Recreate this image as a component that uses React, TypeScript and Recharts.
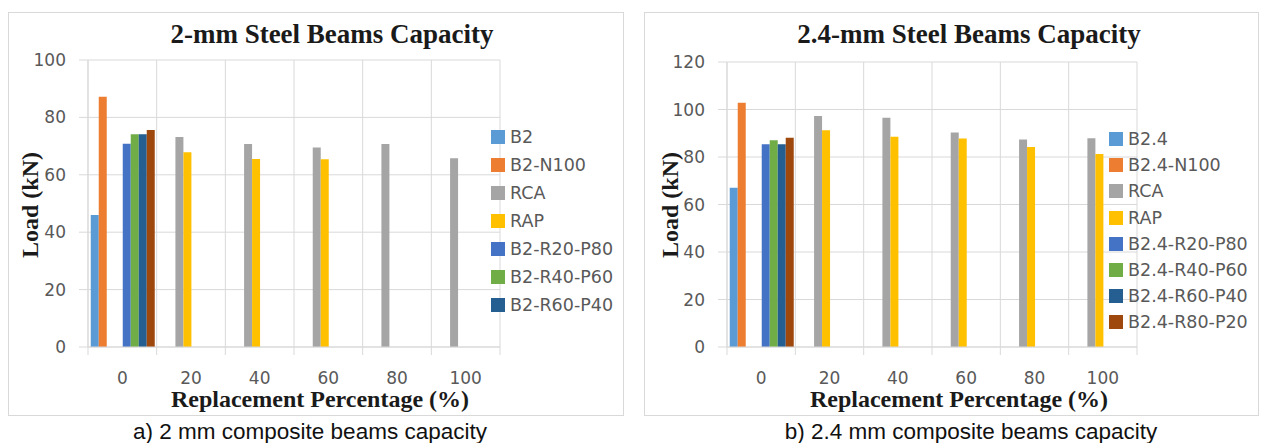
import React from "react";
import { Bar, BarChart, CartesianGrid, Legend, XAxis, YAxis } from "recharts";

// replacement percentage categories (x axis)
const categories = ["0", "20", "40", "60", "80", "100"];

// 2 mm steel beams, load in kN
const b2 = [46, null, null, null, null, null];
const b2N100 = [87.2, null, null, null, null, null];
const rca2 = [null, 73.2, 70.7, 69.5, 70.7, 65.8];
const rap2 = [null, 67.9, 65.5, 65.4, null, null];
const b2R20 = [70.8, null, null, null, null, null];
const b2R40 = [74.1, null, null, null, null, null];
const b2R60 = [74.1, null, null, null, null, null];
const b2R80 = [75.6, null, null, null, null, null];

// 2.4 mm steel beams, load in kN
const b24 = [67.1, null, null, null, null, null];
const b24N100 = [102.8, null, null, null, null, null];
const rca24 = [null, 97.3, 96.5, 90.3, 87.4, 87.9];
const rap24 = [null, 91.3, 88.5, 87.8, 84.2, 81.3];
const b24R20 = [85.4, null, null, null, null, null];
const b24R40 = [87.1, null, null, null, null, null];
const b24R60 = [85.4, null, null, null, null, null];
const b24R80 = [88.1, null, null, null, null, null];

const ticks2 = [0, 20, 40, 60, 80, 100];
const ticks24 = [0, 20, 40, 60, 80, 100, 120];

const colors = ["#5B9BD5", "#ED7D31", "#A5A5A5", "#FFC000", "#4472C4", "#70AD47", "#255E91", "#9E480E"];
const gridColor = "#d9d9d9";
const labelColor = "#595959";
const serif = "'Liberation Serif', 'Times New Roman', serif";
const sans = "'DejaVu Sans', sans-serif";

type Series = { name: string; values: (number | null)[]; legend: boolean };

const series2: Series[] = [
  { name: "B2", values: b2, legend: true },
  { name: "B2-N100", values: b2N100, legend: true },
  { name: "RCA", values: rca2, legend: true },
  { name: "RAP", values: rap2, legend: true },
  { name: "B2-R20-P80", values: b2R20, legend: true },
  { name: "B2-R40-P60", values: b2R40, legend: true },
  { name: "B2-R60-P40", values: b2R60, legend: true },
  { name: "B2-R80-P20", values: b2R80, legend: false },
];

const series24: Series[] = [
  { name: "B2.4", values: b24, legend: true },
  { name: "B2.4-N100", values: b24N100, legend: true },
  { name: "RCA", values: rca24, legend: true },
  { name: "RAP", values: rap24, legend: true },
  { name: "B2.4-R20-P80", values: b24R20, legend: true },
  { name: "B2.4-R40-P60", values: b24R40, legend: true },
  { name: "B2.4-R60-P40", values: b24R60, legend: true },
  { name: "B2.4-R80-P20", values: b24R80, legend: true },
];

function buildRows(list: Series[]) {
  return categories.map((c, i) => {
    const row: Record<string, any> = { pct: c };
    list.forEach((s) => (row[s.name] = s.values[i]));
    return row;
  });
}

function makeTick(band: number) {
  return function Tick(props: any) {
    const { x, y, payload, index } = props;
    return (
      <g>
        <line x1={x - band / 2} x2={x - band / 2} y1={y} y2={y + 8} stroke={gridColor} />
        {index === categories.length - 1 && (
          <line x1={x + band / 2} x2={x + band / 2} y1={y} y2={y + 8} stroke={gridColor} />
        )}
        <text x={x} y={y + 37} textAnchor="middle" fill={labelColor} fontSize={17} fontFamily={sans}>
          {payload.value}
        </text>
      </g>
    );
  };
}

function makeLegend(rowH: number, list: Series[]) {
  const order = list.map((s) => s.name);
  return function LegendBox(props: any) {
    const items = (props.payload || [])
      .filter((p: any) => p.type !== "none")
      .sort((a: any, b: any) => order.indexOf(a.value) - order.indexOf(b.value));
    return (
      <div>
        {items.map((p: any) => (
          <div key={p.value} style={{ display: "flex", alignItems: "center", height: rowH }}>
            <span style={{ width: 14, height: 14, background: p.color, marginRight: 5, flex: "none" }} />
            <span style={{ fontFamily: sans, fontSize: 17.5, color: labelColor, whiteSpace: "nowrap" }}>{p.value}</span>
          </div>
        ))}
      </div>
    );
  };
}

type PanelProps = {
  box: { left: number; top: number; width: number; height: number };
  margin: { top: number; right: number; bottom: number; left: number };
  yWidth: number;
  list: Series[];
  yMax: number;
  yTicks: number[];
  legendPos: { left: number; top: number; rowH: number };
  title: string;
  titlePos: [number, number];
  xTitlePos: [number, number];
  yTitlePos: [number, number];
  caption: string;
  captionPos: [number, number];
};

function Panel(p: PanelProps) {
  const cw = p.box.width - 2;
  const ch = p.box.height - 2;
  const plotW = cw - p.margin.left - p.margin.right - p.yWidth;
  const band = plotW / categories.length;
  const data = buildRows(p.list);
  const center = (pos: [number, number]): React.CSSProperties => ({
    position: "absolute",
    left: pos[0],
    top: pos[1],
    transform: "translate(-50%, -50%)",
    whiteSpace: "nowrap",
  });
  return (
    <>
      <div
        style={{
          position: "absolute",
          left: p.box.left,
          top: p.box.top,
          width: p.box.width,
          height: p.box.height,
          border: `1px solid ${gridColor}`,
          boxSizing: "border-box",
          background: "#fff",
        }}
      >
        <BarChart width={cw} height={ch} data={data} margin={p.margin} barCategoryGap="4%" barGap={0}>
          <CartesianGrid
            stroke={gridColor}
            verticalCoordinatesGenerator={({ offset }: any) =>
              Array.from({ length: categories.length + 1 }, (_, i) => offset.left + (i * offset.width) / categories.length)
            }
          />
          <XAxis
            dataKey="pct"
            stroke={gridColor}
            tickLine={false}
            tickSize={0}
            tickMargin={0}
            height={40}
            interval={0}
            tick={makeTick(band)}
          />
          <YAxis
            width={p.yWidth}
            domain={[0, p.yMax]}
            ticks={p.yTicks}
            stroke={gridColor}
            tickSize={9}
            tickMargin={13}
            tick={{ fill: labelColor, fontSize: 17, fontFamily: sans }}
          />
          <Legend
            layout="vertical"
            align="center"
            verticalAlign="middle"
            wrapperStyle={{ left: p.legendPos.left, top: p.legendPos.top, width: 150 }}
            content={makeLegend(p.legendPos.rowH, p.list)}
          />
          {p.list.map((s, i) => (
            <Bar
              key={s.name}
              dataKey={s.name}
              name={s.name}
              fill={colors[i]}
              legendType={s.legend ? "square" : "none"}
              isAnimationActive={false}
            />
          ))}
        </BarChart>
      </div>
      <div style={{ ...center(p.titlePos), fontFamily: serif, fontWeight: "bold", fontSize: 27, color: "#1a1a1a" }}>
        {p.title}
      </div>
      <div style={{ ...center(p.xTitlePos), fontFamily: serif, fontWeight: "bold", fontSize: 24, color: "#1a1a1a" }}>
        Replacement Percentage (%)
      </div>
      <div
        style={{
          ...center(p.yTitlePos),
          transform: "translate(-50%, -50%) rotate(-90deg)",
          fontFamily: serif,
          fontWeight: "bold",
          fontSize: 24,
          color: "#1a1a1a",
        }}
      >
        Load (kN)
      </div>
      <div style={{ ...center(p.captionPos), fontFamily: "'Liberation Sans', Arial, sans-serif", fontSize: 22.5, color: "#111" }}>
        {p.caption}
      </div>
    </>
  );
}

export default function App() {
  return (
    <div style={{ position: "absolute", left: 0, top: 0, width: 1261, height: 443, background: "#fff", overflow: "hidden" }}>
      <Panel
        box={{ left: 8, top: 12, width: 616, height: 404 }}
        margin={{ top: 47, right: 123, bottom: 28, left: 19 }}
        yWidth={60}
        list={series2}
        yMax={100}
        yTicks={ticks2}
        legendPos={{ left: 482, top: 110, rowH: 28 }}
        title="2-mm Steel Beams Capacity"
        titlePos={[332, 34]}
        xTitlePos={[320, 399]}
        yTitlePos={[30, 205]}
        caption="a) 2 mm composite beams capacity"
        captionPos={[310, 432]}
      />
      <Panel
        box={{ left: 644, top: 12, width: 615, height: 404 }}
        margin={{ top: 49, right: 121, bottom: 28, left: 20 }}
        yWidth={62}
        list={series24}
        yMax={120}
        yTicks={ticks24}
        legendPos={{ left: 464, top: 113, rowH: 26.2 }}
        title="2.4-mm Steel Beams Capacity"
        titlePos={[969, 34]}
        xTitlePos={[959, 399]}
        yTitlePos={[670, 205]}
        caption="b) 2.4 mm composite beams capacity"
        captionPos={[971, 432]}
      />
    </div>
  );
}
